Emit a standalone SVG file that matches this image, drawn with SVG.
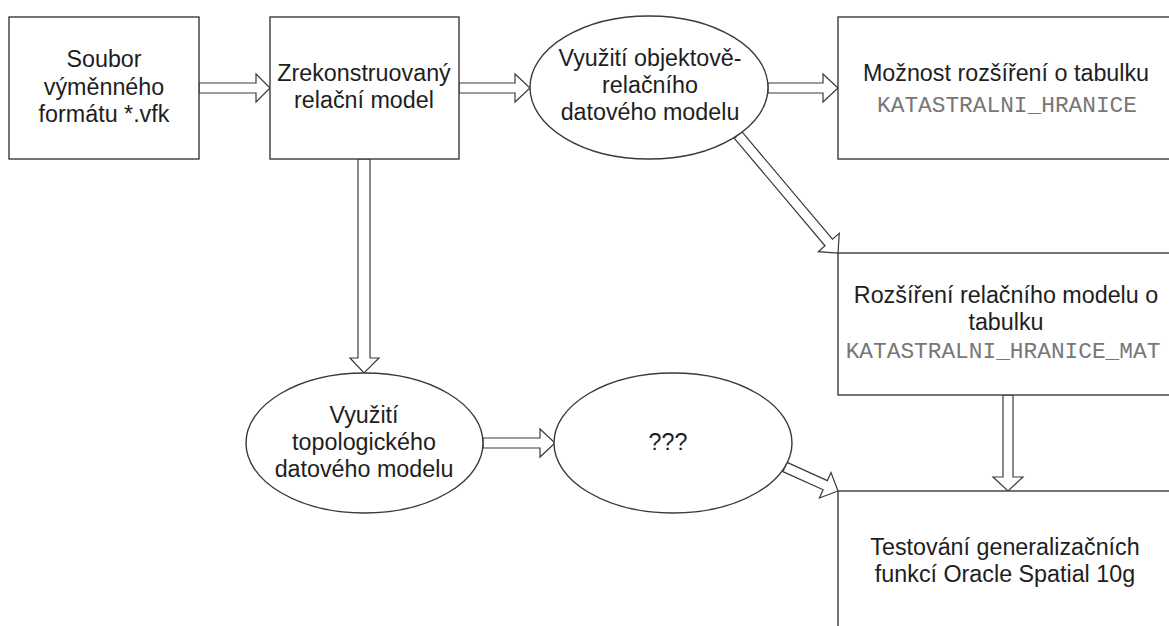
<svg xmlns="http://www.w3.org/2000/svg" width="1169" height="626" viewBox="0 0 1169 626">
<style>
.box{fill:#fff;stroke:#3a3a3a;stroke-width:1.4}
.arr{fill:#fff;stroke:#3a3a3a;stroke-width:1.2;stroke-linejoin:miter}
.t{font-family:"Liberation Sans",Arial,sans-serif;font-size:23.3px;fill:#1e1e1e;text-anchor:middle}
.m{font-family:"Liberation Mono","Courier New",monospace;font-size:22.8px;fill:#777;text-anchor:middle}
</style>
<rect width="1169" height="626" fill="#fff"/>
<g id="connectors">
<polygon class="arr" points="199,83 256,83 256,74 270,88 256,102 256,93 199,93"/>
<polygon class="arr" points="459,83 515,83 515,74 530,88 515,102 515,93 459,93"/>
<polygon class="arr" points="768,83 823,83 823,74 838,88 823,102 823,93 768,93"/>
<polygon class="arr" points="741.8,131.7 832.5,239.2 839.3,233.3 838,253 818.3,251.7 825,245.8 734.3,138.3"/>
<polygon class="arr" points="358,159 370,159 370,358 379,358 364,373 350,358 358,358"/>
<polygon class="arr" points="483,438 540,438 540,429 555,443 540,457 540,448 483,448"/>
<polygon class="arr" points="787.1,462.4 827.3,480.6 831,472.5 838,491 819.4,498 823.1,489.8 782.9,471.6"/>
<polygon class="arr" points="1003,395 1013,395 1013,477 1023,477 1008,491 993,477 1003,477"/>
</g>
<g id="n1">
<rect class="box" x="9" y="17" width="190" height="142"/>
<text class="t" x="104" y="67">Soubor</text>
<text class="t" x="104" y="95">výměnného</text>
<text class="t" x="104" y="122">formátu *.vfk</text>
</g>
<g id="n2">
<rect class="box" x="270" y="17" width="189" height="142"/>
<text class="t" x="364" y="81">Zrekonstruovaný</text>
<text class="t" x="364" y="108">relační model</text>
</g>
<g id="n3">
<ellipse class="box" cx="649" cy="87.5" rx="119" ry="71.5"/>
<text class="t" x="650" y="66">Využití objektově-</text>
<text class="t" x="650" y="93">relačního</text>
<text class="t" x="650" y="120">datového modelu</text>
</g>
<g id="n4">
<rect class="box" x="838" y="17" width="340" height="142"/>
<text class="t" x="1006" y="81">Možnost rozšíření o tabulku</text>
<text class="m" x="1007" y="112">KATASTRALNI_HRANICE</text>
</g>
<g id="n5">
<rect class="box" x="838" y="253" width="340" height="142"/>
<text class="t" x="1006" y="303">Rozšíření relačního modelu o</text>
<text class="t" x="1006" y="330">tabulku</text>
<text class="m" x="1003" y="358">KATASTRALNI_HRANICE_MAT</text>
</g>
<g id="n6">
<ellipse class="box" cx="364.5" cy="443" rx="118.5" ry="70"/>
<text class="t" x="364" y="423">Využití</text>
<text class="t" x="364" y="450">topologického</text>
<text class="t" x="364" y="477">datového modelu</text>
</g>
<g id="n7">
<ellipse class="box" cx="673" cy="443" rx="119" ry="70"/>
<text class="t" x="668" y="450">???</text>
</g>
<g id="n8">
<rect class="box" x="838" y="491" width="340" height="150"/>
<text class="t" x="1005" y="555">Testování generalizačních</text>
<text class="t" x="1005" y="582">funkcí Oracle Spatial 10g</text>
</g>
</svg>
